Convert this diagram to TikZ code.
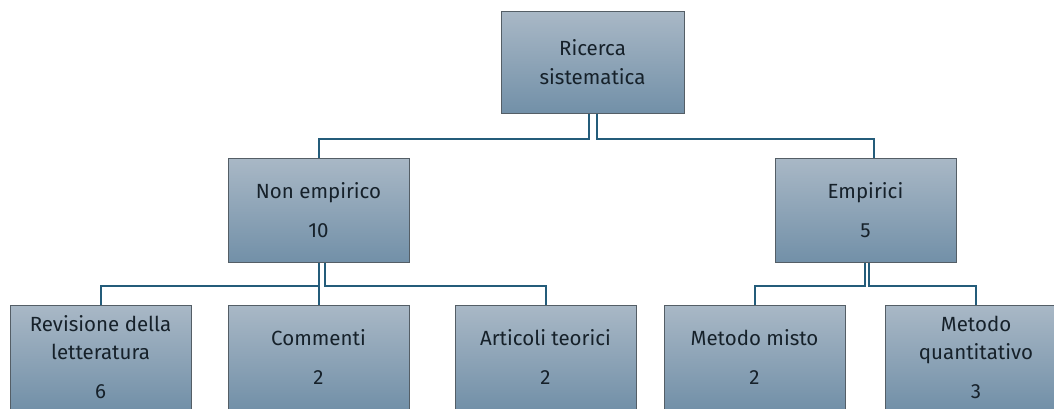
\documentclass[tikz,border=0pt]{standalone}
\usepackage{fontspec}
\setmainfont{Fira Sans}
\usetikzlibrary{calc}
\definecolor{boxtop}{HTML}{A9B8C6}
\definecolor{boxbot}{HTML}{7290A8}
\definecolor{boxline}{HTML}{545E66}
\definecolor{linkcol}{HTML}{245C7A}
\definecolor{txtcol}{HTML}{16212A}
\tikzset{
	box/.style={draw=boxline, line width=1pt, top color=boxtop, bottom color=boxbot,
		minimum width=181pt, minimum height=104pt, inner sep=0pt, align=center,
		text=txtcol, font=\fontsize{20.5}{28.5}\selectfont},
	link/.style={draw=linkcol, line width=2pt}
}

\begin{document}
\begin{tikzpicture}[x=1pt, y=-1pt]
	% frame: 1054 x 408, 1 unit = 1 pixel
	\useasboundingbox (0, 0) rectangle (1054, 408);
	\clip (0, 0) rectangle (1054, 408);
	% top level
	\node[box, minimum width=183pt, minimum height=102pt] (root) at (592.5, 62) {Ricerca\\sistematica};
	% second level
	\node[box] (nonemp) at (318.5, 210) {Non empirico\\[11pt]10};
	\node[box] (emp) at (865.5, 210) {Empirici\\[11pt]5};
	% third level
	\node[box] (rev) at (100.5, 357) {Revisione della\\letteratura\\[10pt]6};
	\node[box] (comm) at (318.5, 357) {Commenti\\[11pt]2};
	\node[box] (art) at (545.5, 357) {Articoli teorici\\[11pt]2};
	\node[box] (misto) at (754.5, 357) {Metodo misto\\[11pt]2};
	\node[box] (quant) at (976, 357) {Metodo\\quantitativo\\[10pt]3};
	
	% links root -> second level
	\draw[link] ([xshift=-4pt]root.south) -- ++(0, 25) -| (nonemp.north);
	\draw[link] ([xshift=4pt]root.south) -- ++(0, 25) -| ([xshift=8pt]emp.north);
	% links second -> third level
	\draw[link] (nonemp.south) -- ++(0, 23) -| (rev.north);
	\draw[link] (nonemp.south) -- (comm.north);
	\draw[link] ([xshift=6pt]nonemp.south) -- ++(0, 23) -| (art.north);
	\draw[link] ([xshift=-1pt]emp.south) -- ++(0, 23) -| (misto.north);
	\draw[link] ([xshift=3pt]emp.south) -- ++(0, 23) -| (quant.north);
\end{tikzpicture}
\end{document}
